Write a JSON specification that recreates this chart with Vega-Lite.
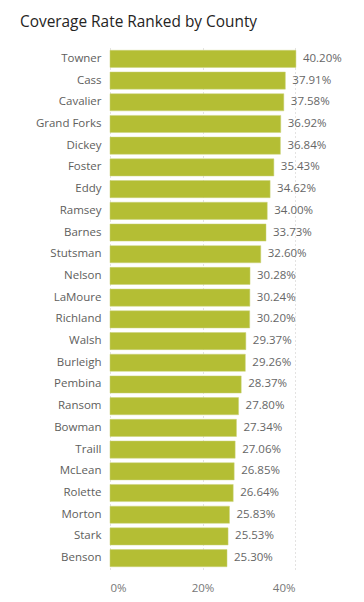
{
  "$schema": "https://vega.github.io/schema/vega-lite/v6.json",
  "autosize": {"type": "none"},
  "padding": {"left": 110, "top": 48, "right": 69, "bottom": 33},
  "width": 185,
  "height": 521,
  "background": "white",
  "title": {
    "text": "Coverage Rate Ranked by County",
    "anchor": "start",
    "frame": "group",
    "dx": -90,
    "offset": 6,
    "baseline": "alphabetic",
    "font": "Segoe UI, Open Sans",
    "fontSize": 15.4,
    "fontWeight": "normal",
    "color": "#252423"
  },
  "data": {
    "values": [
      {"county": "Towner", "rate": 0.4020},
      {"county": "Cass", "rate": 0.3791},
      {"county": "Cavalier", "rate": 0.3758},
      {"county": "Grand Forks", "rate": 0.3692},
      {"county": "Dickey", "rate": 0.3684},
      {"county": "Foster", "rate": 0.3543},
      {"county": "Eddy", "rate": 0.3462},
      {"county": "Ramsey", "rate": 0.3400},
      {"county": "Barnes", "rate": 0.3373},
      {"county": "Stutsman", "rate": 0.3260},
      {"county": "Nelson", "rate": 0.3028},
      {"county": "LaMoure", "rate": 0.3024},
      {"county": "Richland", "rate": 0.3020},
      {"county": "Walsh", "rate": 0.2937},
      {"county": "Burleigh", "rate": 0.2926},
      {"county": "Pembina", "rate": 0.2837},
      {"county": "Ransom", "rate": 0.2780},
      {"county": "Bowman", "rate": 0.2734},
      {"county": "Traill", "rate": 0.2706},
      {"county": "McLean", "rate": 0.2685},
      {"county": "Rolette", "rate": 0.2664},
      {"county": "Morton", "rate": 0.2583},
      {"county": "Stark", "rate": 0.2553},
      {"county": "Benson", "rate": 0.2530}
    ]
  },
  "encoding": {
    "y": {
      "field": "county",
      "type": "nominal",
      "sort": {"field": "rate", "order": "descending"},
      "scale": {"paddingInner": 0.21, "paddingOuter": 0.105},
      "axis": {
        "title": null,
        "domain": false,
        "ticks": false,
        "labelPadding": 9,
        "labelFont": "Segoe UI, Open Sans",
        "labelFontSize": 11.5,
        "labelColor": "#605E5C"
      }
    },
    "x": {
      "field": "rate",
      "type": "quantitative",
      "scale": {"domain": [0, 0.4], "nice": false, "clamp": false},
      "axis": {
        "title": null,
        "values": [0, 0.2, 0.4],
        "format": ".0%",
        "domain": false,
        "ticks": false,
        "grid": true,
        "gridColor": "#C8C6C4",
        "gridDash": [1, 3],
        "labelPadding": 13,
        "labelFont": "Segoe UI, Open Sans",
        "labelFontSize": 11.5,
        "labelColor": "#777777"
      }
    }
  },
  "layer": [
    {
      "mark": {"type": "bar", "color": "#B4BE34", "stroke": "#CBD27A", "strokeWidth": 0.5}
    },
    {
      "mark": {
        "type": "text",
        "align": "left",
        "baseline": "middle",
        "dx": 7,
        "font": "Segoe UI, Open Sans",
        "fontSize": 11.5,
        "color": "#666666"
      },
      "encoding": {
        "text": {"field": "rate", "type": "quantitative", "format": ".2%"}
      }
    }
  ],
  "config": {
    "view": {"stroke": null}
  }
}
